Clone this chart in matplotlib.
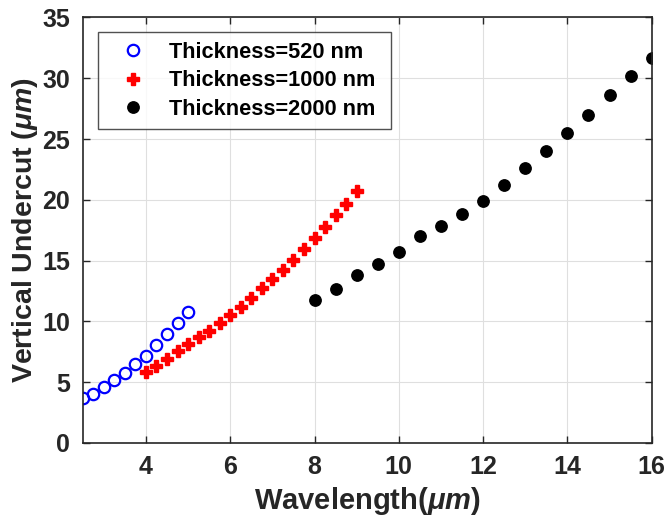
import matplotlib
matplotlib.use("Agg")
import matplotlib.pyplot as plt

# undercut vs wavelength for three film thicknesses
wl_520 = [2.5, 2.75, 3.0, 3.25, 3.5, 3.75, 4.0, 4.25, 4.5, 4.75, 5.0]
uc_520 = [3.66, 4.07, 4.59, 5.16, 5.79, 6.48, 7.19, 8.06, 8.96, 9.89, 10.80]

wl_1000 = [4.0, 4.25, 4.5, 4.75, 5.0, 5.25, 5.5, 5.75, 6.0, 6.25, 6.5,
           6.75, 7.0, 7.25, 7.5, 7.75, 8.0, 8.25, 8.5, 8.75, 9.0]
uc_1000 = [5.82, 6.31, 6.94, 7.54, 8.17, 8.71, 9.23, 9.86, 10.49, 11.20, 11.94,
           12.76, 13.50, 14.26, 15.08, 15.93, 16.83, 17.73, 18.75, 19.67, 20.71]

wl_2000 = [8.0, 8.5, 9.0, 9.5, 10.0, 10.5, 11.0, 11.5, 12.0, 12.5, 13.0,
           13.5, 14.0, 14.5, 15.0, 15.5, 16.0]
uc_2000 = [11.72, 12.68, 13.85, 14.70, 15.74, 16.99, 17.87, 18.80, 19.89, 21.25, 22.62,
           24.02, 25.49, 26.97, 28.58, 30.16, 31.67]

xticks = [4, 6, 8, 10, 12, 14, 16]
yticks = [0, 5, 10, 15, 20, 25, 30, 35]

plt.rcParams["font.family"] = ["Liberation Sans", "DejaVu Sans"]
plt.rcParams["font.weight"] = "bold"
plt.rcParams["mathtext.fontset"] = "custom"
plt.rcParams["mathtext.it"] = "Liberation Sans:italic:bold"
plt.rcParams["mathtext.rm"] = "Liberation Sans:bold"

TXT = "#262626"

fig = plt.figure(figsize=(6.67, 5.28), dpi=100)
ax = fig.add_axes([0.124, 0.161, 0.853, 0.806])

ax.plot(wl_520, uc_520, "o", ls="none", mfc="none", mec="#0000ff",
        mew=1.6, ms=8.2, label="Thickness=520 nm")
ax.plot(wl_1000, uc_1000, "P", ls="none", color="#ff0000",
        mec="#ff0000", ms=8, label="Thickness=1000 nm")
ax.plot(wl_2000, uc_2000, "o", ls="none", color="black",
        ms=8.2, label="Thickness=2000 nm")

ax.set_xlim(2.5, 16)
ax.set_ylim(0, 35)
ax.set_xticks(xticks)
ax.set_yticks(yticks)
ax.grid(True, color="#dfdfdf", linewidth=0.8)
ax.set_axisbelow(True)

ax.tick_params(direction="in", top=True, right=True, length=5,
               width=1, labelsize=18, colors=TXT, pad=9)
for lab in ax.get_xticklabels() + ax.get_yticklabels():
    lab.set_fontweight("bold")
for sp in ax.spines.values():
    sp.set_color(TXT)
    sp.set_linewidth(1.2)

ax.set_xlabel(r"Wavelength($\mu m$)", fontsize=21, fontweight="bold",
              color=TXT, labelpad=4)
ax.set_ylabel(r"Vertical Undercut ($\mu m$)", fontsize=20.5, fontweight="bold",
              color=TXT, labelpad=2)

# legend box stretched to a fixed width, anchored top-left
leg = ax.legend(loc="upper left", bbox_to_anchor=(0.027, 0.5, 0.515, 0.465),
                mode="expand", borderaxespad=0, fontsize=15.7, frameon=True,
                fancybox=False, edgecolor="#262626", handletextpad=0.5,
                borderpad=0.45, labelspacing=0.33, handlelength=2.3)
leg.get_frame().set_linewidth(1.0)
for t in leg.get_texts():
    t.set_fontweight("bold")
    t.set_color("black")

fig.savefig("out.png", dpi=100)
